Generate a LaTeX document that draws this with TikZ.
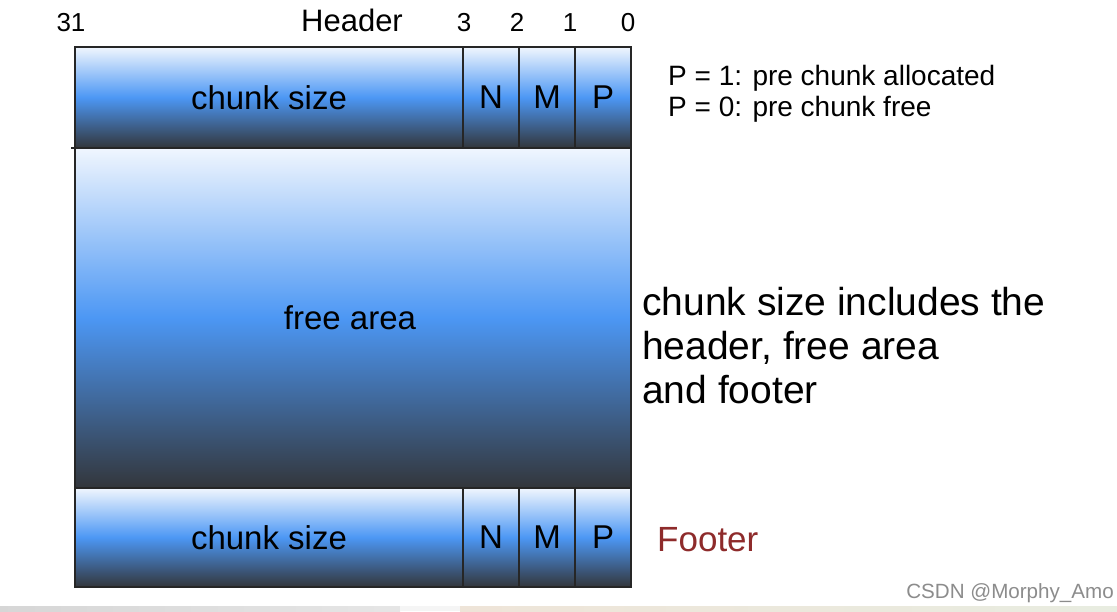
\documentclass[tikz,border=0pt]{standalone}
\usepackage{fontspec}
\setmainfont{Liberation Sans}
\definecolor{topc}{HTML}{F0F6FE}
\definecolor{midc}{HTML}{4C97F4}
\definecolor{botc}{HTML}{33363B}
\definecolor{footred}{HTML}{8E2B2B}
\definecolor{wmgray}{HTML}{8C8C8C}
\begin{document}
\begin{tikzpicture}[x=1pt,y=-1pt,
  cell/.style={draw=black!85, line width=1.3pt, top color=topc, bottom color=botc, middle color=midc,
    inner sep=0pt, outer sep=0pt, font=\fontsize{33}{33}\selectfont},
  bitlbl/.style={font=\fontsize{26}{26}\selectfont, inner sep=0pt, anchor=base},
  note/.style={font=\fontsize{28}{28}\selectfont, inner sep=0pt, anchor=base west}]
\useasboundingbox (0,0) rectangle (1117,611);
\fill[white] (0,0) rectangle (1117,611);
% bottom strip
\shade[left color=black!16, right color=black!10] (0,606) rectangle (400,611);
\fill[black!4] (400,606) rectangle (460,611);
\shade[left color={rgb,255:red,238;green,228;blue,216}, right color={rgb,255:red,232;green,236;blue,224}] (460,606) rectangle (1117,611);
% top labels
\node[bitlbl] (b31) at (71,31) {31};
\node[bitlbl, font=\fontsize{31}{31}\selectfont] (hdr) at (352,31) {Header};
\node[bitlbl] (b3) at (464,31) {3};
\node[bitlbl] (b2) at (517,31) {2};
\node[bitlbl] (b1) at (570,31) {1};
\node[bitlbl] (b0) at (628,31) {0};
% header row
\node[cell, minimum width=388pt, minimum height=101pt] (hcs) at (269,97.5) {chunk size};
\node[cell, minimum width=56pt, minimum height=101pt] (hn) at (491,97.5) {N};
\node[cell, minimum width=56pt, minimum height=101pt] (hm) at (547,97.5) {M};
\node[cell, minimum width=56pt, minimum height=101pt] (hp) at (603,97.5) {P};
% free area
\node[cell, minimum width=556pt, minimum height=340pt] (free) at (353,318) {\hspace*{-6pt}free area};
% footer row
\node[cell, minimum width=388pt, minimum height=99pt] (fcs) at (269,537.5) {chunk size};
\node[cell, minimum width=56pt, minimum height=99pt] (fn) at (491,537.5) {N};
\node[cell, minimum width=56pt, minimum height=99pt] (fm) at (547,537.5) {M};
\node[cell, minimum width=56pt, minimum height=99pt] (fp) at (603,537.5) {P};
\coordinate (tick) at (71,148);
\draw[black!85, line width=1.3pt] (tick) -- (hcs.south west);
% notes
\node[note] (n1) at (668,85) {P = 1: pre chunk allocated};
\node[note] (n2) at (668,116) {P = 0: pre chunk free};
\node[anchor=west, align=left, inner sep=0pt, font=\fontsize{39}{44}\selectfont] (incl) at (642,346)
  {chunk size includes the\\header, free area\\and footer};
\node[anchor=west, inner sep=0pt, text=footred, font=\fontsize{35}{35}\selectfont] (foot) at (657,540) {Footer};
\node[anchor=east, inner sep=0pt, text=wmgray, font=\fontsize{20.6}{20.6}\selectfont] (wm) at (1114,593) {CSDN @Morphy\_Amo};
\end{tikzpicture}
\end{document}
